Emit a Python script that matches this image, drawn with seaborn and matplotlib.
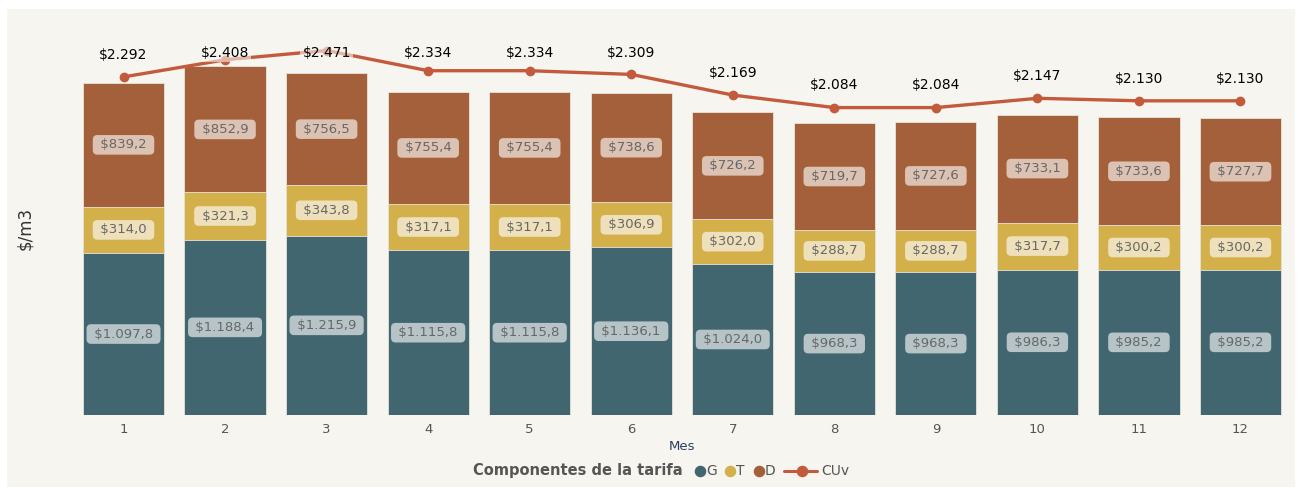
import numpy as np
import pandas as pd
import matplotlib.pyplot as plt
import seaborn as sns
from matplotlib.lines import Line2D
from matplotlib.patches import Rectangle

# Data
meses = ["1", "2", "3", "4", "5", "6", "7", "8", "9", "10", "11", "12"]
g_vals = [1097.8, 1188.4, 1215.9, 1115.8, 1115.8, 1136.1, 1024.0, 968.3, 968.3, 986.3, 985.2, 985.2]
t_vals = [314.0, 321.3, 343.8, 317.1, 317.1, 306.9, 302.0, 288.7, 288.7, 317.7, 300.2, 300.2]
d_vals = [839.2, 852.9, 756.5, 755.4, 755.4, 738.6, 726.2, 719.7, 727.6, 733.1, 733.6, 727.7]
cuv_vals = [2292, 2408, 2471, 2334, 2334, 2309, 2169, 2084, 2084, 2147, 2130, 2130]
componentes = ["G", "T", "D"]

col_g = "#41666f"
col_t = "#d4b04b"
col_d = "#a3603a"
col_line = "#c45a3c"
bg = "#f7f5f0"


def fmt_es(v, dec=1):
    s = f"{v:,.{dec}f}"
    return "$" + s.replace(",", "X").replace(".", ",").replace("X", ".")


df = pd.DataFrame({"Mes": meses, "G": g_vals, "T": t_vals, "D": d_vals, "CUv": cuv_vals})
df["GT"] = df["G"] + df["T"]
df["GTD"] = df["GT"] + df["D"]

sns.set_theme(style="white")
plt.rcParams["font.family"] = ["DejaVu Sans"]

fig = plt.figure(figsize=(13.02, 4.88), dpi=100)
fig.patch.set_facecolor("white")
fig.patches.append(Rectangle((7 / 1302, 1 / 488), 1288 / 1302, 478 / 488,
                             transform=fig.transFigure, facecolor=bg, edgecolor="none", zorder=-10))
ax = fig.add_axes([72.75 / 1302, (488 - 415) / 488, 1218.5 / 1302, 385 / 488])
ax.patch.set_alpha(0)

# stacked bars drawn as cumulative layers
for col, c in [("GTD", col_d), ("GT", col_t), ("G", col_g)]:
    sns.barplot(data=df, x="Mes", y=col, color=c, width=0.8, saturation=1,
                edgecolor="#e8e4dc", linewidth=0.6, ax=ax)

sns.pointplot(data=df, x="Mes", y="CUv", color=col_line, markers="o",
              linewidth=2.4, markersize=5.2, ax=ax)

ax.set_ylim(0, 2610)
ax.set_xlim(-0.5, 11.5)

box = dict(boxstyle="round,pad=0.25,rounding_size=0.35", facecolor="white", alpha=0.62, edgecolor="none")
for i in range(len(meses)):
    g, t, d = g_vals[i], t_vals[i], d_vals[i]
    for yc, v in [(g / 2, g), (g + t / 2, t), (g + t + d / 2, d)]:
        ax.text(i, yc, " " + fmt_es(v) + " ", ha="center", va="center", fontsize=9.5,
                color="#676767", bbox=box)
    ytop = min(cuv_vals[i] + 150, 2455)
    ax.text(i, ytop, fmt_es(cuv_vals[i], 0), ha="center", va="center", fontsize=10, color="black",
            bbox=dict(boxstyle="square,pad=0.15", facecolor=bg, alpha=0.6, edgecolor="none"))

sns.despine(ax=ax, left=True, bottom=True)
ax.set_yticks([])
ax.tick_params(axis="x", length=0, labelsize=9.5, labelcolor="#555555", pad=6)
ax.set_xlabel("Mes", fontsize=9.5, color="#2a3f5f", labelpad=3)
ax.set_ylabel("")
fig.text(25 / 1302, 1 - 228 / 488, "$/m3", rotation=90, ha="center", va="center", fontsize=12, color="#333333")

# legend, drawn inline like the original
ly = 1 - 471 / 488
fig.text(683 / 1302, ly, "Componentes de la tarifa", ha="right", va="center",
         fontsize=10.5, fontweight="bold", color="#555555")
for name, c, mx in zip(componentes, [col_g, col_t, col_d], [700, 730, 759]):
    fig.add_artist(Line2D([mx / 1302], [ly], marker="o", linestyle="none", color=c,
                          markersize=7.3, transform=fig.transFigure))
    fig.text((mx + 6) / 1302, ly, name, ha="left", va="center", fontsize=10, color="#555555")
fig.add_artist(Line2D([784 / 1302, 817 / 1302], [ly, ly], linestyle="-", color=col_line,
                      linewidth=2.2, transform=fig.transFigure))
fig.add_artist(Line2D([802 / 1302], [ly], marker="o", linestyle="none", color=col_line,
                      markersize=7.3, transform=fig.transFigure))
fig.text(821 / 1302, ly, "CUv", ha="left", va="center", fontsize=10, color="#555555")

fig.savefig("out.png", dpi=100, facecolor="white")
